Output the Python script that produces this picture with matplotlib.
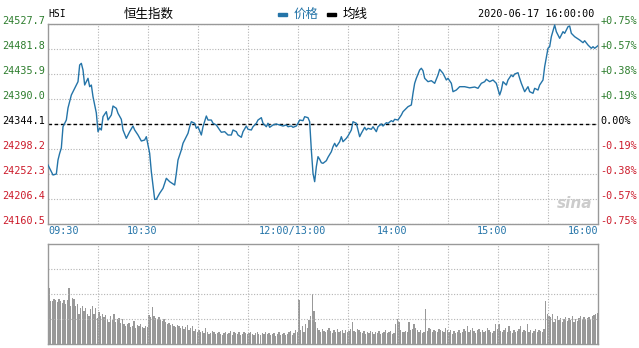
import numpy as np
from matplotlib import pyplot as plt
from matplotlib.patches import Rectangle

plt.rcParams['font.family'] = ['DejaVu Sans Mono', 'Noto Sans CJK SC']

# trading minutes since 09:30 (lunch break removed), HSI price
minutes = [0, 3, 5, 6, 7, 8, 9, 11, 12, 14,
           16, 18, 19, 20, 21, 22, 23, 24, 25, 26,
           27, 29, 30, 31, 32, 33, 35, 36, 38, 39,
           41, 42, 44, 45, 47, 49, 51, 52, 54, 56,
           58, 59, 61, 62, 64, 65, 67, 69, 71, 73,
           75, 76, 77, 78, 80, 81, 82, 84, 85, 86,
           88, 89, 90, 92, 93, 95, 96, 98, 99, 101,
           103, 104, 106, 108, 110, 111, 113, 114, 116, 117,
           119, 120, 122, 123, 125, 126, 128, 129, 131, 132,
           133, 135, 137, 139, 141, 143, 144, 146, 147, 149,
           150, 151, 153, 154, 156, 157, 158, 159, 160, 161,
           162, 163, 164, 165, 167, 168, 170, 171, 172, 173,
           175, 176, 177, 179, 180, 182, 183, 185, 186, 187,
           188, 190, 191, 192, 194, 195, 197, 198, 200, 201,
           203, 204, 206, 207, 208, 210, 212, 213, 215, 216,
           218, 219, 220, 221, 223, 224, 225, 226, 228, 230,
           232, 234, 235, 237, 239, 240, 242, 243, 245, 247,
           250, 253, 256, 258, 260, 262, 263, 265, 267, 269,
           271, 272, 273, 275, 276, 278, 279, 280, 282, 283,
           284, 286, 288, 289, 291, 292, 294, 295, 297, 298,
           300, 301, 302, 304, 305, 307, 309, 310, 312, 313,
           314, 316, 319, 321, 322, 324, 326, 327, 328, 330]

prices = [24268.8, 24250.5, 24252.3, 24278.0, 24290.3, 24300.0, 24339.1, 24351.4, 24373.5, 24397.3,
          24409.6, 24421.8, 24452.4, 24455.5, 24443.2, 24415.7, 24421.8, 24428.0, 24412.6, 24415.7,
          24394.2, 24364.3, 24330.0, 24336.8, 24333.1, 24357.5, 24366.7, 24351.4, 24360.6, 24377.1,
          24372.9, 24363.7, 24352.7, 24333.1, 24317.8, 24330.0, 24340.4, 24333.1, 24323.9, 24312.9,
          24314.7, 24320.8, 24290.3, 24256.5, 24205.8, 24205.8, 24216.9, 24226.0, 24244.4, 24238.2,
          24234.0, 24232.1, 24253.6, 24278.0, 24296.4, 24308.7, 24314.7, 24327.0, 24339.1, 24348.3,
          24345.4, 24336.2, 24339.1, 24323.9, 24339.1, 24358.8, 24351.4, 24351.4, 24345.4, 24342.3,
          24333.1, 24328.9, 24330.0, 24323.9, 24323.9, 24333.1, 24330.0, 24323.9, 24319.7, 24330.0,
          24340.4, 24334.4, 24333.1, 24339.1, 24345.4, 24351.4, 24355.7, 24345.4, 24339.1, 24345.4,
          24338.0, 24342.3, 24344.1, 24342.3, 24340.4, 24342.3, 24339.1, 24340.4, 24338.0, 24340.4,
          24345.4, 24351.4, 24350.2, 24357.5, 24355.7, 24348.3, 24296.4, 24253.6, 24238.2, 24265.7,
          24284.1, 24279.3, 24273.0, 24271.9, 24276.7, 24283.0, 24293.2, 24302.4, 24308.7, 24302.4,
          24311.6, 24320.8, 24311.6, 24317.8, 24322.1, 24333.1, 24348.3, 24345.4, 24333.1, 24320.8,
          24327.0, 24338.0, 24333.1, 24336.2, 24334.4, 24339.1, 24330.0, 24339.1, 24344.1, 24340.4,
          24346.5, 24345.4, 24350.2, 24348.3, 24352.7, 24351.4, 24360.6, 24366.7, 24372.9, 24375.9,
          24379.0, 24400.5, 24418.8, 24428.0, 24443.2, 24446.4, 24442.0, 24428.0, 24421.8, 24423.6,
          24418.8, 24434.1, 24444.5, 24437.2, 24424.9, 24428.0, 24418.8, 24403.4, 24406.5, 24412.6,
          24412.6, 24410.5, 24412.0, 24409.6, 24418.8, 24421.8, 24426.2, 24421.8, 24424.9, 24418.8,
          24397.3, 24406.5, 24421.8, 24415.7, 24424.9, 24434.1, 24431.0, 24435.9, 24438.3, 24428.0,
          24418.8, 24403.4, 24412.6, 24403.4, 24400.5, 24409.6, 24406.5, 24415.7, 24424.9, 24449.3,
          24483.1, 24486.0, 24504.4, 24525.9, 24513.6, 24501.4, 24513.6, 24510.6, 24522.7, 24524.0,
          24510.6, 24504.4, 24498.3, 24493.4, 24497.0, 24489.1, 24483.1, 24486.0, 24483.1, 24487.9]

# per-minute volume (relative units), one row per 30 minutes
volume = [56, 43, 43, 45, 44, 42, 45, 43, 41, 44, 40, 44, 56, 38, 46, 45, 38, 40, 30, 36, 38, 33, 36, 30, 28, 35, 38, 30, 36, 26,
          32, 28, 30, 27, 29, 25, 22, 28, 24, 30, 22, 25, 26, 21, 25, 20, 18, 20, 21, 17, 18, 23, 16, 19, 18, 20, 17, 16, 18, 17,
          29, 27, 37, 28, 26, 25, 27, 24, 23, 25, 22, 20, 21, 19, 20, 18, 17, 19, 18, 16, 18, 15, 17, 19, 14, 16, 18, 13, 15, 12,
          14, 12, 13, 11, 16, 12, 10, 11, 13, 12, 10, 11, 12, 10, 9, 11, 12, 10, 11, 13, 9, 12, 11, 10, 12, 9, 10, 12, 11, 10,
          11, 12, 10, 9, 11, 12, 10, 9, 11, 10, 12, 10, 11, 9, 10, 11, 8, 10, 12, 9, 10, 11, 9, 10, 12, 13, 9, 11, 14, 12,
          44, 14, 18, 12, 20, 16, 24, 28, 50, 33, 22, 16, 14, 12, 15, 13, 12, 14, 16, 13, 11, 14, 12, 15, 12, 13, 14, 11, 14, 12,
          13, 15, 22, 13, 12, 15, 14, 12, 11, 13, 10, 12, 11, 13, 12, 10, 12, 11, 13, 10, 11, 12, 14, 11, 12, 13, 10, 11, 20, 25,
          22, 14, 12, 12, 13, 12, 22, 14, 15, 20, 16, 14, 12, 14, 11, 12, 35, 13, 16, 15, 12, 14, 13, 12, 15, 14, 13, 12, 16, 14,
          12, 14, 10, 13, 11, 12, 14, 11, 12, 15, 13, 18, 12, 14, 16, 13, 11, 14, 15, 12, 14, 12, 13, 16, 14, 12, 11, 13, 20, 15,
          20, 13, 12, 14, 16, 12, 18, 13, 11, 14, 12, 13, 15, 18, 12, 14, 13, 20, 12, 14, 11, 13, 15, 12, 14, 13, 12, 15, 43, 30,
          28, 27, 30, 22, 25, 28, 24, 26, 22, 25, 27, 23, 26, 24, 28, 22, 25, 23, 26, 28, 24, 27, 25, 26, 27, 24, 28, 29, 30, 31]

prev_close = 24344.1
price_ticks = [24527.7, 24481.8, 24435.9, 24390.0, 24344.1, 24298.2, 24252.3, 24206.4, 24160.5]
pct_labels = ['+0.75%', '+0.57%', '+0.38%', '+0.19%', '0.00%', '-0.19%', '-0.38%', '-0.57%', '-0.75%']
time_ticks = [0, 60, 150, 210, 270, 330]
time_labels = ['09:30', '10:30', '12:00/13:00', '14:00', '15:00', '16:00']

W, H = 639, 348
fig = plt.figure(figsize=(W / 100, H / 100), dpi=100)
ax = fig.add_axes([48 / W, 1 - 224 / H, 550 / W, 200 / H])
axv = fig.add_axes([48 / W, 4 / H, 550 / W, 100 / H])

green = '#2d7d2d'
red = '#cc1a2a'
blue = '#2474a8'
grid_c = '#b4b4b4'
fs = 7.3

for a in (ax, axv):
    a.set_xlim(0, 330)
    a.set_xticks(np.arange(30, 330, 30))
    a.tick_params(length=0, labelbottom=False, labelleft=False)
    a.grid(True, color=grid_c, linestyle=(0, (1, 1.5)), linewidth=0.8)
    for s in a.spines.values():
        s.set_color('#999999')
        s.set_linewidth(1)

ax.set_ylim(price_ticks[-1], price_ticks[0])
ax.set_yticks(price_ticks)
ax.plot(minutes, prices, color=blue, linewidth=1.0, zorder=3)
ax.axhline(prev_close, color='black', linestyle=(0, (2.5, 2)), linewidth=1, zorder=2)

# left price labels and right percentage labels
for v, p in zip(price_ticks, pct_labels):
    if v > prev_close:
        c = green
    elif v < prev_close:
        c = red
    else:
        c = 'black'
    ax.annotate('%.1f' % v, xy=(0, v), xycoords=('axes fraction', 'data'),
                xytext=(-2, 2), textcoords='offset points', ha='right', va='center',
                fontsize=fs, color=c)
    ax.annotate(p, xy=(1, v), xycoords=('axes fraction', 'data'),
                xytext=(1.5, 2), textcoords='offset points', ha='left', va='center',
                fontsize=fs, color=c)

# time labels
for t, lab in zip(time_ticks, time_labels):
    ha = 'center'
    dx = -4
    if t == 0:
        ha, dx = 'left', 0
    elif t == 330:
        ha, dx = 'right', 0
    ax.annotate(lab, xy=(t, 0), xycoords=('data', 'axes fraction'),
                xytext=(dx, -5), textcoords='offset points', ha=ha, va='center',
                fontsize=fs, color=blue)

# volume bars
axv.bar(np.arange(len(volume)) + 0.5, volume, width=0.8, color='#999999', linewidth=0)
axv.set_ylim(0, 100)
axv.set_yticks([25, 50, 75])

# header
fig.text(48 / W, 1 - 14 / H, 'HSI', fontsize=7, color='black', va='center', ha='left')
fig.text(124 / W, 1 - 14 / H, '恒生指数', fontsize=9, color='black', va='center', ha='left',
         family=['Noto Sans CJK SC', 'DejaVu Sans'])
fig.patches.append(Rectangle((278 / W, 1 - 16 / H), 9 / W, 3 / H, color=blue,
                             transform=fig.transFigure, figure=fig))
fig.text(294 / W, 1 - 14 / H, '价格', fontsize=9, color=blue, va='center', ha='left',
         family=['Noto Sans CJK SC', 'DejaVu Sans'])
fig.patches.append(Rectangle((327 / W, 1 - 16 / H), 9 / W, 3 / H, color='black',
                             transform=fig.transFigure, figure=fig))
fig.text(343 / W, 1 - 14 / H, '均线', fontsize=9, color='black', va='center', ha='left',
         family=['Noto Sans CJK SC', 'DejaVu Sans'])
fig.text(594 / W, 1 - 14 / H, '2020-06-17 16:00:00', fontsize=fs, color='black',
         va='center', ha='right')

# watermark
ax.text(0.99, 0.1, 'sina', transform=ax.transAxes, ha='right', va='center',
        fontsize=11, color='#cccccc', style='italic', weight='bold',
        family='DejaVu Sans')

fig.savefig('out.png', dpi=100)
